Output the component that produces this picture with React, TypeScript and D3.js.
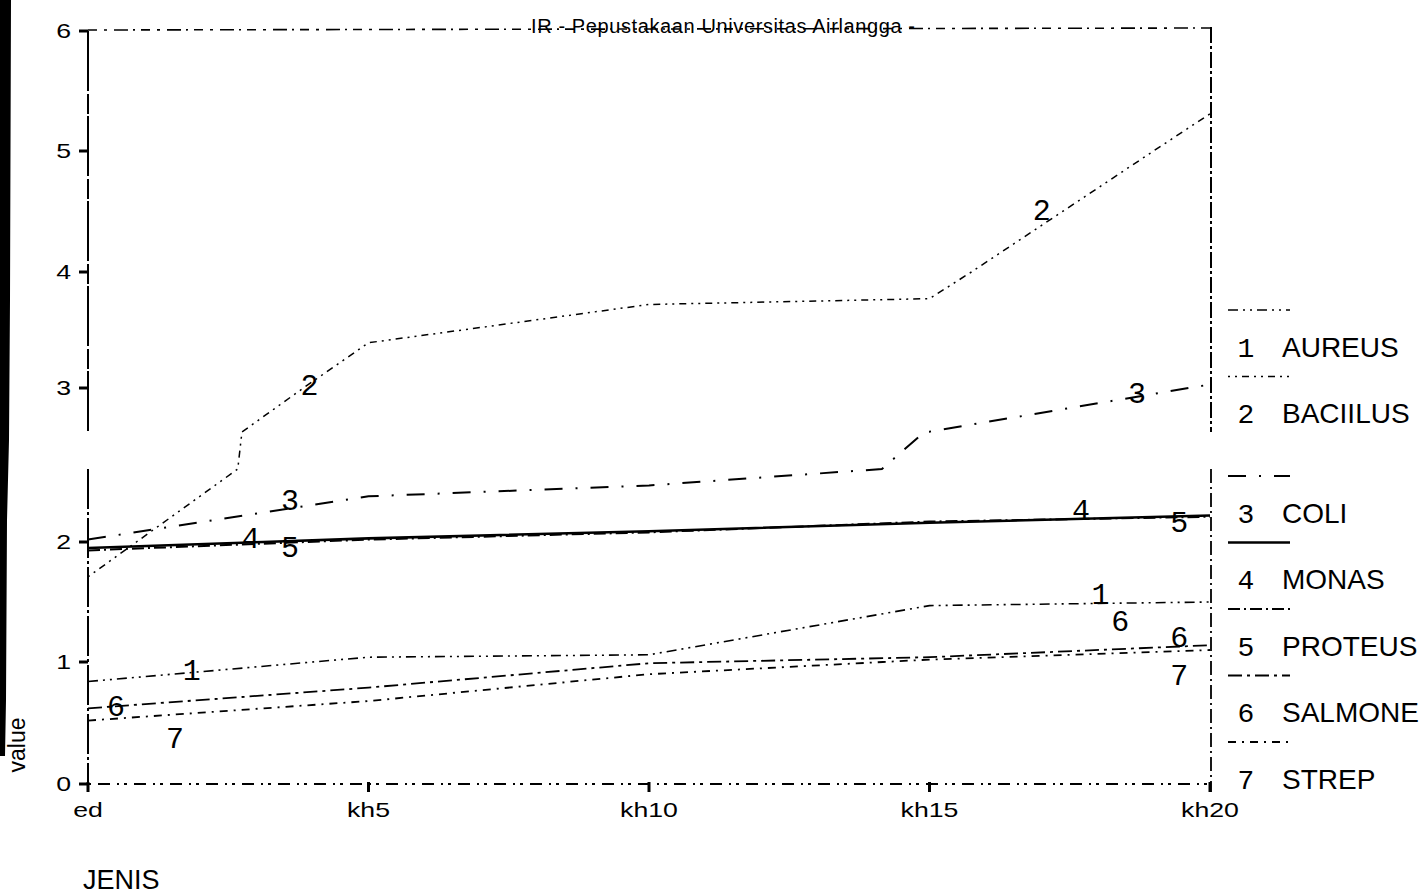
import React from "react";
import * as d3 from "d3";

// ---- data ----
const categories = ["ed", "kh5", "kh10", "kh15", "kh20"];
const seriesNames = ["AUREUS", "BACIILUS", "COLI", "MONAS", "PROTEUS", "SALMONE", "STREP"];
const seriesSymbols = ["1", "2", "3", "4", "5", "6", "7"];
const aureus = [0.84, 1.04, 1.06, 1.47, 1.5];
const bacillus = [1.71, 3.39, 3.72, 3.77, 5.31];
const coli = [2.02, 2.38, 2.47, 2.635, 3.03];
const monas = [1.95, 2.03, 2.09, 2.16, 2.22];
const proteus = [1.93, 2.02, 2.08, 2.17, 2.21];
const salmone = [0.62, 0.79, 0.99, 1.04, 1.14];
const strep = [0.52, 0.68, 0.9, 1.02, 1.1];
const yTicks = [0, 1, 2, 3, 4, 5, 6];
// in-plot number labels: series index, position along categories, value
const lineLabelSeries = [0, 0, 1, 1, 2, 2, 3, 3, 4, 4, 5, 5, 5, 6, 6];
const lineLabelAt = [0.37, 3.61, 0.79, 3.4, 0.72, 3.74, 0.58, 3.54, 0.72, 3.89, 0.1, 3.68, 3.89, 0.31, 3.89];
const lineLabelVal = [0.94, 1.57, 3.03, 4.52, 2.35, 2.96, 2.04, 2.27, 1.96, 2.17, 0.64, 1.35, 1.21, 0.38, 0.9];

const allSeries = [aureus, bacillus, coli, monas, proteus, salmone, strep];

// ---- styling ----
const dashes = ["10 5 2 5 2 5", "2 5 2 5 7 5", "18 13 2 13", "none", "12 4 2 4", "14 5 3 5", "8 6 2 6"];
const widths = [1.6, 1.5, 2, 2.6, 2, 1.8, 1.8];

// scanned scale: slight stretch band between 2.607 and 2.632
const Y_DOMAIN = [0, 1, 2, 2.607, 2.632, 3, 4, 5, 6];
const Y_RANGE = [784, 662, 542, 469, 432, 388, 272, 151, 31];

const SANS = "'Liberation Sans', Arial, sans-serif";
const MONO = "'Liberation Mono', 'DejaVu Sans Mono', monospace";

export default function App() {
  const x = d3.scalePoint<string>().domain(categories).range([88, 1210]);
  const xi = d3
    .scaleLinear()
    .domain([0, categories.length - 1])
    .range([x(categories[0]) as number, x(categories[categories.length - 1]) as number]);
  const y = d3.scaleLinear().domain(Y_DOMAIN).range(Y_RANGE);

  // path through the (piecewise) scale: add the scale's knots crossed by each segment
  const toPts = (vals: number[]) => {
    const pts: [number, number][] = [];
    vals.forEach((b, i) => {
      if (i > 0) {
        const a = vals[i - 1];
        const ks = Y_DOMAIN.filter((k) => (k - a) * (k - b) < 0).sort((p, q) => (a < b ? p - q : q - p));
        ks.forEach((k) => pts.push([i - 1 + (k - a) / (b - a), k]));
      }
      pts.push([i, b]);
    });
    return pts;
  };
  const line = d3
    .line<[number, number]>()
    .x((d) => xi(d[0]))
    .y((d) => y(d[1]));

  const bandTop = y(2.632);
  const bandBot = y(2.607);
  const left = x(categories[0]) as number;
  const right = x(categories[categories.length - 1]) as number;
  const top = y(6);
  const bottom = y(0);

  const legendY = (i: number) => 310 + i * 66.5 + (i >= 2 ? 33 : 0);

  return (
    <svg
      width={1425}
      height={895}
      style={{ position: "absolute", left: 0, top: 0, background: "#fff", display: "block" }}
    >
      <rect x={0} y={0} width={1425} height={895} fill="#fff" />
      {/* scan edge */}
      <path d="M0,0 L11,0 L10,300 L9,440 L7,520 L6,700 L5,756 L0,756 Z" fill="#000" />

      {/* header watermark */}
      <text x={531} y={33} fontFamily={SANS} fontSize={20} textLength={384} fill="#000">
        IR - Pepustakaan Universitas Airlangga -
      </text>

      {/* frame */}
      <line x1={left} x2={right} y1={top - 1} y2={top - 3} stroke="#000" strokeWidth={1.6} strokeDasharray="9 7 3 7 14 5 2 6" />
      <line x1={left} x2={right} y1={bottom} y2={bottom} stroke="#000" strokeWidth={1.8} strokeDasharray="3 7 12 7 2 5" />
      <line x1={left} x2={left} y1={top} y2={bandTop} stroke="#000" strokeWidth={2} strokeDasharray="60 3 20 2" />
      <line x1={left} x2={left} y1={bandBot} y2={bottom + 6} stroke="#000" strokeWidth={2} strokeDasharray="40 3 3 3" />
      <line x1={right + 1} x2={right + 1} y1={top - 4} y2={bandTop} stroke="#000" strokeWidth={2} strokeDasharray="16 3 3 3" />
      <line x1={right + 1} x2={right + 1} y1={bandBot} y2={bottom + 8} stroke="#000" strokeWidth={1.8} strokeDasharray="14 4 2 4" />

      {/* y ticks */}
      {yTicks.map((t) => (
        <g key={"yt" + t}>
          <line x1={left - 9} x2={left} y1={y(t)} y2={y(t)} stroke="#000" strokeWidth={3} />
          <text
            transform={`translate(${left - 17},${y(t) + 7}) scale(1.27,1)`}
            textAnchor="end"
            fontFamily={SANS}
            fontSize={21}
            fill="#000"
          >
            {t}
          </text>
        </g>
      ))}

      {/* x ticks */}
      {categories.map((c) => (
        <g key={"xt" + c}>
          <line x1={x(c)} x2={x(c)} y1={bottom - 2} y2={bottom + 8} stroke="#000" strokeWidth={3} />
          <text
            transform={`translate(${x(c)},${bottom + 33}) scale(1.27,1)`}
            textAnchor="middle"
            fontFamily={SANS}
            fontSize={21}
            fill="#000"
          >
            {c}
          </text>
        </g>
      ))}

      {/* axis titles */}
      <text x={83} y={889} fontFamily={SANS} fontSize={27} fill="#000">
        JENIS
      </text>
      <text transform="translate(25,745) rotate(-90)" textAnchor="middle" fontFamily={SANS} fontSize={23} fill="#000">
        value
      </text>

      {/* series lines */}
      {allSeries.map((vals, s) => (
        <path
          key={"s" + s}
          d={line(toPts(vals)) || ""}
          fill="none"
          stroke="#000"
          strokeWidth={widths[s]}
          strokeDasharray={dashes[s]}
        />
      ))}

      {/* in-plot number labels */}
      {lineLabelSeries.map((s, i) => (
        <text
          key={"ll" + i}
          x={xi(lineLabelAt[i])}
          y={y(lineLabelVal[i])}
          dy="0.35em"
          textAnchor="middle"
          fontFamily={MONO}
          fontSize={30}
          fill="#000"
        >
          {seriesSymbols[s]}
        </text>
      ))}

      {/* legend */}
      {seriesNames.map((n, i) => (
        <g key={"lg" + i}>
          <line
            x1={1228}
            x2={1290}
            y1={legendY(i)}
            y2={legendY(i)}
            stroke="#000"
            strokeWidth={widths[i]}
            strokeDasharray={dashes[i]}
          />
          <text x={1246} y={legendY(i) + 37} dy="0.35em" textAnchor="middle" fontFamily={MONO} fontSize={28} fill="#000">
            {seriesSymbols[i]}
          </text>
          <text x={1282} y={legendY(i) + 37} dy="0.35em" fontFamily={SANS} fontSize={28} fill="#000">
            {n}
          </text>
        </g>
      ))}
    </svg>
  );
}
